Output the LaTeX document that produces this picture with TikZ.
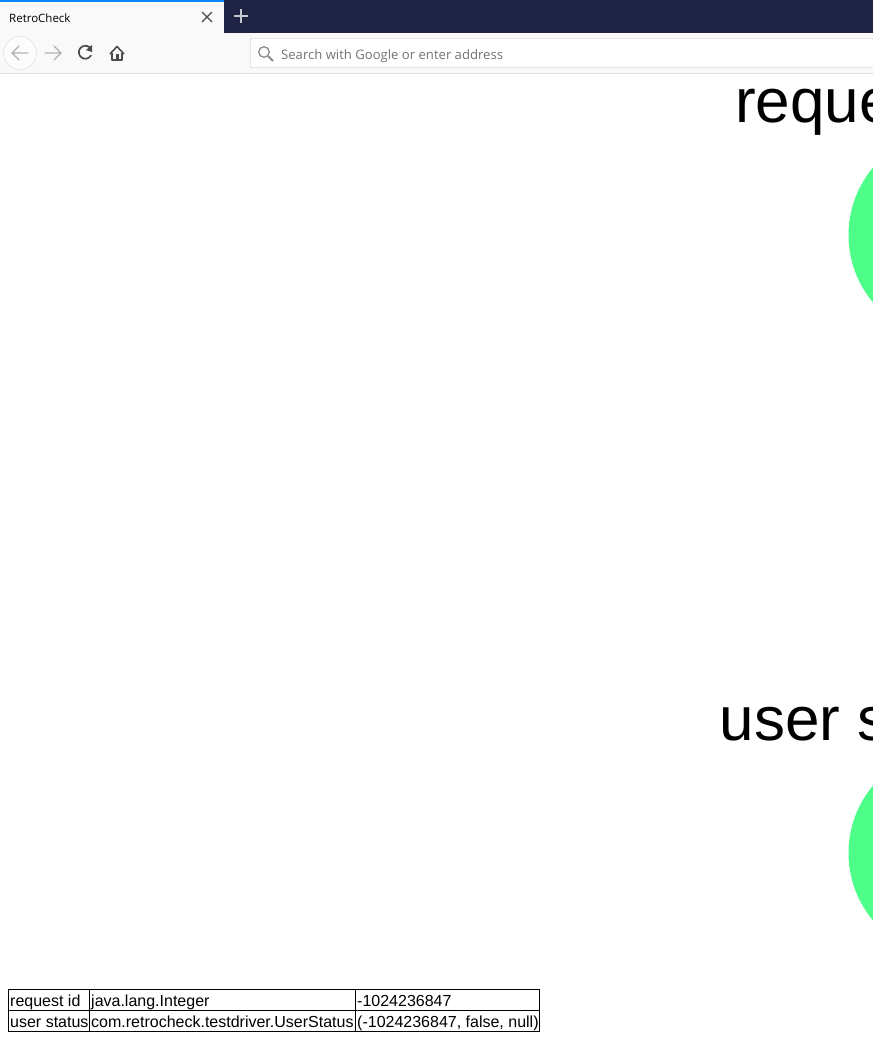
\documentclass[tikz,border=0pt]{standalone}
\usepackage{fontspec}
\setmainfont{Liberation Sans}
\newfontfamily\uifont{Open Sans}
\usetikzlibrary{positioning}
\definecolor{tabnavy}{HTML}{1F2444}
\definecolor{tabblue}{HTML}{0A84FF}
\definecolor{barfill}{HTML}{F9F9FA}
\definecolor{iconact}{HTML}{4A4A4F}
\definecolor{iconoff}{HTML}{B1B1B3}
\definecolor{nodegreen}{HTML}{4DFF88}
\tikzset{
	bigtext/.style={inner sep=0pt, anchor=base west, font=\fontsize{62}{62}\selectfont},
	celltext/.style={inner sep=0pt, anchor=base west, font=\fontsize{16}{18}\selectfont},
	gridline/.style={draw=black, line width=1pt},
	icon/.style={line width=1.7pt, line cap=round},
}
\begin{document}
\begin{tikzpicture}[x=1pt, y=-1pt]
	\useasboundingbox (0,0) rectangle (873,1037);
	\clip (0,0) rectangle (873,1037);
	% browser frame
	\fill[white] (0,0) rectangle (873,1037);
	\fill[tabnavy] (224,0) rectangle (873,33);
	\fill[barfill] (0,2) rectangle (224,33);
	\fill[barfill] (0,33) rectangle (873,73);
	\fill[tabblue] (0,0) rectangle (224,2);
	\draw[black!12] (0,73.5) -- (873,73.5);
	\node[anchor=base west, inner sep=0pt, font=\uifont\fontsize{11.5}{13}\selectfont] (title) at (9,22) {RetroCheck};
	\draw[iconact, line width=1.3pt] (202,12) -- (212,22) (212,12) -- (202,22);
	\draw[white!75!tabnavy, line width=1.6pt] (234,16) -- (248,16) (241,9) -- (241,23);
	% toolbar icons
	\node[circle, draw=black!15, fill=white!50!barfill, minimum size=33pt, inner sep=0pt] (back) at (20,53) {};
	\draw[icon, iconoff, line width=1.4pt] (28,53) -- (12,53) (19,46) -- (12,53) -- (19,60);
	\draw[icon, iconoff, line width=1.4pt] (45,53) -- (61,53) (54,46) -- (61,53) -- (54,60);
	\draw[icon, iconact] (91,49) arc (-30:-330:6.5);
	\fill[iconact] (92,45) -- (92,52) -- (86,50) -- cycle;
	\draw[iconact, line width=1.6pt, line join=round] (110,54) -- (117,46.5) -- (124,54) (112,53) -- (112,60) -- (122,60) -- (122,53);
	\fill[iconact] (116,54) rectangle (118.5,60);
	% address bar
	\draw[black!25, fill=white, rounded corners=1pt] (250.5,38.5) rectangle (880,67.5);
	\draw[black!45, line width=1.3pt] (264,52) circle (5.3);
	\draw[black!45, line width=1.8pt] (268,56) -- (273,61);
	\node[anchor=base west, inner sep=0pt, text=black!55, font=\uifont\fontsize{13.1}{15}\selectfont] (search) at (281,59) {Search with Google or enter address};
	% clipped nodes
	\node[bigtext] (reqlabel) at (735,122) {reque};
	\fill[nodegreen] (953.5,235) circle (105);
	\node[bigtext] (userlabel) at (719.5,740) {user s};
	\fill[nodegreen] (953.5,853) circle (105);
	% table
	\draw[gridline] (8.5,989.5) rectangle (539.5,1031.5);
	\draw[gridline] (8.5,1010.5) -- (539.5,1010.5);
	\draw[gridline] (89.5,989.5) -- (89.5,1031.5);
	\draw[gridline] (355.5,989.5) -- (355.5,1031.5);
	\foreach \cx/\cy/\ctext/\cname in {
		10/1006/request id/c1, 91/1006/java.lang.Integer/c2, 357/1006/-1024236847/c3,
		10/1027/user status/c4, 91/1027/com.retrocheck.testdriver.UserStatus/c5, 357/1027/{(-1024236847, false, null)}/c6}
		\node[celltext] (\cname) at (\cx,\cy) {\ctext};
\end{tikzpicture}
\end{document}
